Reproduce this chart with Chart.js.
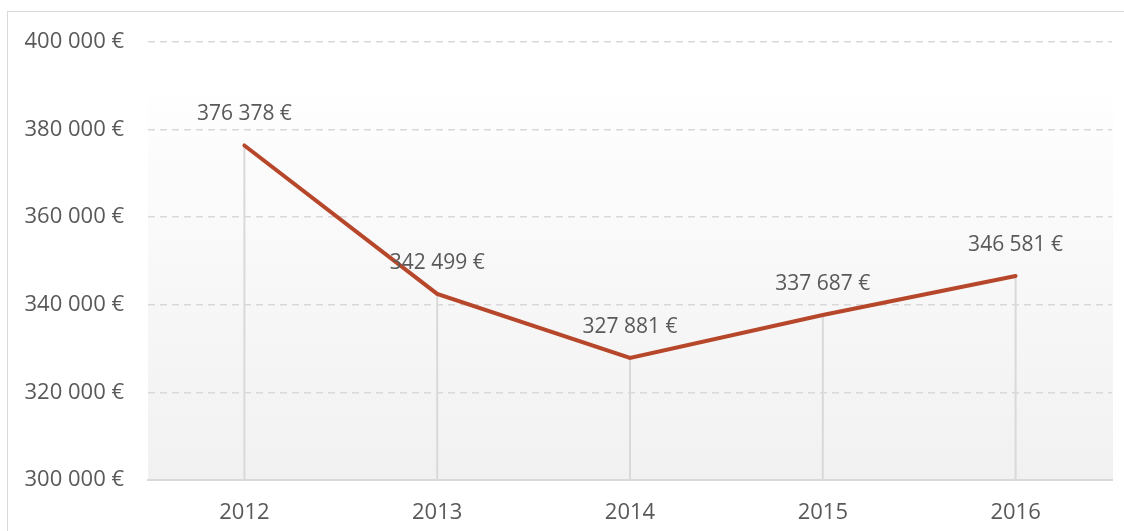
<!DOCTYPE html>
<html>
<head>
<meta charset="utf-8">
<script src="https://cdn.jsdelivr.net/npm/chart.js@4"></script>
<style>
  html, body { margin: 0; padding: 0; background: #ffffff; }
  #wrap { position: relative; width: 1124px; height: 531px; }
</style>
</head>
<body>
<div id="wrap"><canvas id="chart" width="1124" height="531"></canvas></div>
<script>
// values
const years = ['2012', '2013', '2014', '2015', '2016'];
const amounts = [376378, 342499, 327881, 337687, 346581];
const yTicks = [300000, 320000, 340000, 360000, 380000, 400000];

const textColor = '#595959';
const lineColor = '#B7472A';
const fontFamily = "'Open Sans', 'Noto Sans', sans-serif";

function euro(v) {
    // "376 378 €" style
    return String(v).replace(/\B(?=(\d{3})+(?!\d))/g, ' ') + ' €';
}

// background, outer frame and drop lines
const decorPlugin = {
    id: 'decor',
    beforeDraw(chart) {
        const { ctx, chartArea } = chart;
        ctx.save();
        // outer frame
        ctx.strokeStyle = '#d9d9d9';
        ctx.lineWidth = 1;
        ctx.strokeRect(7.5, 11.5, 1300, 700);
        // plot area fill, fades in a bit below the top
        const top = chartArea.top + 55;
        const grad = ctx.createLinearGradient(0, top, 0, chartArea.bottom);
        grad.addColorStop(0, '#fefefe');
        grad.addColorStop(1, '#f1f1f1');
        ctx.fillStyle = grad;
        ctx.fillRect(chartArea.left, top, chartArea.right - chartArea.left + 1, chartArea.bottom - top);
        ctx.restore();
    },
    beforeDatasetsDraw(chart) {
        const { ctx, chartArea } = chart;
        const meta = chart.getDatasetMeta(0);
        ctx.save();
        ctx.strokeStyle = '#d9d9d9';
        ctx.lineWidth = 2;
        meta.data.forEach(pt => {
            ctx.beginPath();
            ctx.moveTo(pt.x, pt.y);
            ctx.lineTo(pt.x, chartArea.bottom);
            ctx.stroke();
        });
        ctx.restore();
    },
    afterDatasetsDraw(chart) {
        const { ctx } = chart;
        const meta = chart.getDatasetMeta(0);
        const data = chart.data.datasets[0].data;
        ctx.save();
        ctx.fillStyle = textColor;
        ctx.font = '21px ' + fontFamily;
        ctx.textAlign = 'center';
        ctx.textBaseline = 'middle';
        meta.data.forEach((pt, i) => {
            ctx.fillText(euro(data[i]), pt.x, pt.y - 31);
        });
        ctx.restore();
    }
};

Chart.defaults.font.family = fontFamily;
Chart.defaults.color = textColor;

new Chart(document.getElementById('chart').getContext('2d'), {
    type: 'line',
    data: {
        labels: years,
        datasets: [{
            data: amounts,
            borderColor: lineColor,
            borderWidth: 4,
            pointRadius: 0,
            tension: 0,
            borderCapStyle: 'round'
        }]
    },
    options: {
        responsive: false,
        animation: false,
        layout: { padding: { top: 42, right: 12, bottom: 0, left: 0 } },
        plugins: { legend: { display: false }, tooltip: { enabled: false } },
        scales: {
            x: {
                offset: true,
                grid: { display: false, drawTicks: false },
                border: { display: true, color: '#d9d9d9', width: 2 },
                ticks: { padding: 20, font: { size: 22 }, color: textColor },
                afterFit(scale) { scale.height = 51; }
            },
            y: {
                min: 300000,
                max: 400000,
                afterBuildTicks(scale) { scale.ticks = yTicks.map(v => ({ value: v })); },
                grid: { color: '#d9d9d9', lineWidth: 1.5, drawTicks: false },
                border: { display: false, dash: [7, 5] },
                ticks: { padding: 24, font: { size: 22 }, color: textColor, callback: v => euro(v) },
                afterFit(scale) { scale.width = 148; }
            }
        }
    },
    plugins: [decorPlugin]
});
</script>
</body>
</html>
